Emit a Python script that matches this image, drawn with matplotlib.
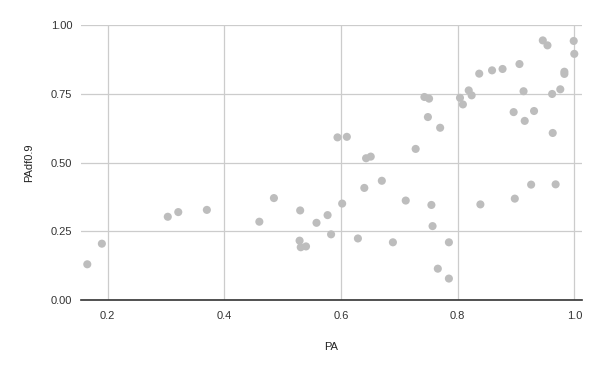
import matplotlib
matplotlib.use("Agg")
import matplotlib.pyplot as plt

# values
pa = [0.165, 0.190, 0.303, 0.321, 0.370, 0.460, 0.485, 0.530, 0.529, 0.531,
      0.540, 0.558, 0.577, 0.583, 0.594, 0.610, 0.602, 0.629, 0.640, 0.643,
      0.651, 0.670, 0.689, 0.711, 0.728, 0.743, 0.751, 0.749, 0.755, 0.757,
      0.766, 0.770, 0.785, 0.785, 0.804, 0.809, 0.819, 0.824, 0.837, 0.839,
      0.859, 0.877, 0.896, 0.898, 0.906, 0.913, 0.915, 0.926, 0.931, 0.946,
      0.954, 0.962, 0.963, 0.968, 0.976, 0.983, 0.983, 0.999, 1.000]
padf09 = [0.130, 0.205, 0.303, 0.320, 0.328, 0.285, 0.371, 0.326, 0.216, 0.192,
          0.195, 0.281, 0.309, 0.239, 0.592, 0.594, 0.351, 0.224, 0.408, 0.516,
          0.522, 0.434, 0.210, 0.362, 0.550, 0.739, 0.733, 0.666, 0.346, 0.269,
          0.114, 0.627, 0.210, 0.078, 0.736, 0.712, 0.763, 0.745, 0.824, 0.348,
          0.836, 0.841, 0.684, 0.369, 0.859, 0.760, 0.652, 0.420, 0.688, 0.945,
          0.927, 0.750, 0.608, 0.421, 0.767, 0.831, 0.823, 0.943, 0.896]

x_ticks = [0.2, 0.4, 0.6, 0.8, 1.0]
y_ticks = [0.0, 0.25, 0.5, 0.75, 1.0]

plt.rcParams['font.family'] = ['Liberation Sans', 'DejaVu Sans']

fig = plt.figure(figsize=(6, 3.71), dpi=100, facecolor='white')
ax = fig.add_axes([0.1345, 0.1914, 0.835, 0.7404])

ax.scatter(pa, padf09, s=34, color='#bdbdbd', edgecolors='none', zorder=3)

ax.set_xlim(0.1537, 1.0127)
ax.set_ylim(0, 1.0)
ax.set_xticks(x_ticks)
ax.set_xticklabels(['0.2', '0.4', '0.6', '0.8', '1.0'])
ax.set_yticks(y_ticks)
ax.set_yticklabels(['0.00', '0.25', '0.50', '0.75', '1.00'])

ax.grid(True, color='#cccccc', linewidth=0.9, zorder=0)
ax.set_axisbelow(True)
for side in ['top', 'right', 'left']:
    ax.spines[side].set_visible(False)
ax.spines['bottom'].set_color('#333333')
ax.spines['bottom'].set_linewidth(1.2)
ax.spines['bottom'].set_zorder(4)

ax.tick_params(axis='both', length=0, labelsize=8, labelcolor='#333333')
ax.tick_params(axis='x', pad=8)
ax.tick_params(axis='y', pad=6)

ax.set_xlabel('PA', fontsize=8, color='#222222', labelpad=15)
ax.set_ylabel('PAdf0.9', fontsize=8, color='#222222', labelpad=12)

fig.savefig('out.png', dpi=100, facecolor='white')
